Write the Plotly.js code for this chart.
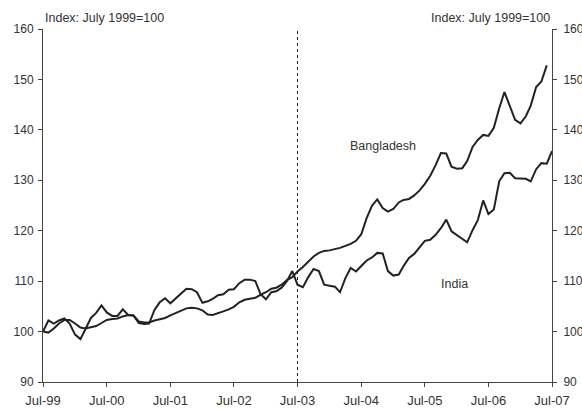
<!DOCTYPE html>
<html>
<head>
<meta charset="utf-8">
<script src="https://cdn.plot.ly/plotly-3.0.1.min.js"></script>
<style>html,body{margin:0;padding:0;background:#fff;}#chart{width:582px;height:409px;}</style>
</head>
<body>
<div id="chart"></div>
<script>
// Monthly index, July 1999 = 100
const startMonth = "1999-07-01";
const bangladesh = [
  100.0, 99.8, 100.6, 101.6, 102.3, 102.3, 101.6, 100.8, 100.6, 100.8, 101.1, 101.7,
  102.3, 102.5, 102.6, 103.0, 103.3, 103.2, 102.0, 101.8, 101.8, 102.2, 102.4, 102.7,
  103.2, 103.7, 104.1, 104.6, 104.7, 104.6, 104.2, 103.4, 103.3, 103.6, 104.0, 104.4,
  104.9, 105.8, 106.3, 106.5, 106.7, 107.3, 107.8, 108.5, 108.7, 109.3, 110.2, 110.8,
  111.9, 112.8, 113.9, 114.9, 115.6, 116.0, 116.1, 116.3, 116.6, 117.0, 117.4, 118.0,
  119.3, 122.5, 125.0, 126.2, 124.5, 123.8, 124.3, 125.6, 126.1, 126.3, 127.0, 128.0,
  129.3, 130.9, 133.0, 135.4, 135.3, 132.7, 132.3, 132.4, 133.8, 136.6, 138.0, 139.0,
  138.8, 140.4, 144.3, 147.5, 144.8, 142.0, 141.3, 142.7, 144.8, 148.5, 149.6, 152.8
];
const india = [
  100.0, 102.2, 101.6, 102.2, 102.6, 101.6, 99.4, 98.5, 100.5, 102.7, 103.7, 105.2,
  103.8, 103.1, 103.1, 104.4, 103.3, 103.2, 101.7, 101.5, 101.6, 104.3, 105.8, 106.6,
  105.6, 106.6, 107.4, 108.5, 108.4, 107.8, 105.7, 106.0, 106.5, 107.2, 107.4, 108.3,
  108.4, 109.6, 110.3, 110.3, 110.0, 107.4, 106.4, 107.8, 108.0, 108.7, 110.0, 112.0,
  109.3, 108.8, 110.8, 112.4, 112.0, 109.3, 109.1, 108.9, 107.8, 110.6, 112.6, 111.9,
  113.0, 114.1, 114.7, 115.6, 115.5, 112.0, 111.1, 111.3, 113.0, 114.6, 115.4, 116.7,
  118.0, 118.2, 119.2, 120.5, 122.2, 119.9, 119.2, 118.4, 117.7, 120.1, 122.1, 126.0,
  123.3, 124.2, 129.8, 131.4, 131.5, 130.4, 130.3, 130.3, 129.8, 132.2, 133.4, 133.3,
  135.8
];
const yTicks = [90, 100, 110, 120, 130, 140, 150, 160];
const seriesNames = ["Bangladesh", "India"];
const unitLabel = "Index: July 1999=100";
const breakDate = "2003-07-01";

function monthDates(n) {
  const out = [];
  const d0 = new Date(startMonth + "T00:00:00Z");
  for (let i = 0; i < n; i++) {
    const d = new Date(Date.UTC(d0.getUTCFullYear(), d0.getUTCMonth() + i, 1));
    out.push(d.toISOString().slice(0, 10));
  }
  return out;
}

const lineStyle = {color: "#222222", width: 2};
const traces = [
  {x: monthDates(bangladesh.length), y: bangladesh, name: seriesNames[0], type: "scatter", mode: "lines", line: lineStyle, yaxis: "y"},
  {x: monthDates(india.length), y: india, name: seriesNames[1], type: "scatter", mode: "lines", line: lineStyle, yaxis: "y"},
  {x: [startMonth], y: [null], type: "scatter", mode: "lines", yaxis: "y2", showlegend: false, hoverinfo: "skip"}
];

const font = {family: "Liberation Sans, Arial, sans-serif", size: 12, color: "#333333"};
const xfont = {family: "Liberation Sans, Arial, sans-serif", size: 13, color: "#333333"};
const annFont = {family: "Liberation Sans, Arial, sans-serif", size: 12.5, color: "#333333"};
const yCommon = {
  range: [90, 160], tickvals: yTicks, ticks: "outside", ticklen: 4, tickcolor: "#444",
  showline: true, linecolor: "#444", linewidth: 1, showgrid: false, zeroline: false,
  tickfont: font, fixedrange: true
};

const layout = {
  width: 582, height: 409,
  margin: {l: 43, r: 30, t: 29, b: 27},
  paper_bgcolor: "#ffffff", plot_bgcolor: "#ffffff",
  showlegend: false,
  font: font,
  xaxis: {
    type: "date", range: ["1999-07-01", "2007-07-01"],
    tick0: "1999-07-01", dtick: "M12", tickformat: "%b-%y",
    ticks: "outside", ticklen: 4, tickcolor: "#444",
    showline: true, linecolor: "#444", linewidth: 1, showgrid: false, zeroline: false,
    tickfont: xfont, ticklabelstandoff: 2
  },
  yaxis: Object.assign({side: "left", ticklabelstandoff: 2}, yCommon),
  yaxis2: Object.assign({side: "right", overlaying: "y", ticklabelstandoff: 4}, yCommon),
  shapes: [{
    type: "line", xref: "x", yref: "paper", x0: breakDate, x1: breakDate, y0: 0, y1: 1,
    line: {color: "#222222", width: 1, dash: "3px,3px"}
  }],
  annotations: [
    {xref: "paper", yref: "paper", x: 0, y: 1, xanchor: "left", yanchor: "bottom", yshift: 2, text: unitLabel, showarrow: false, font: annFont},
    {xref: "paper", yref: "paper", x: 1, y: 1, xanchor: "right", yanchor: "bottom", yshift: 2, text: unitLabel, showarrow: false, font: annFont},
    {xref: "x", yref: "y", x: "2004-11-01", y: 136.8, text: seriesNames[0], showarrow: false, font: annFont},
    {xref: "x", yref: "y", x: "2005-12-20", y: 109.5, text: seriesNames[1], showarrow: false, font: annFont}
  ]
};

Plotly.newPlot("chart", traces, layout, {staticPlot: true, displayModeBar: false});
</script>
</body>
</html>
